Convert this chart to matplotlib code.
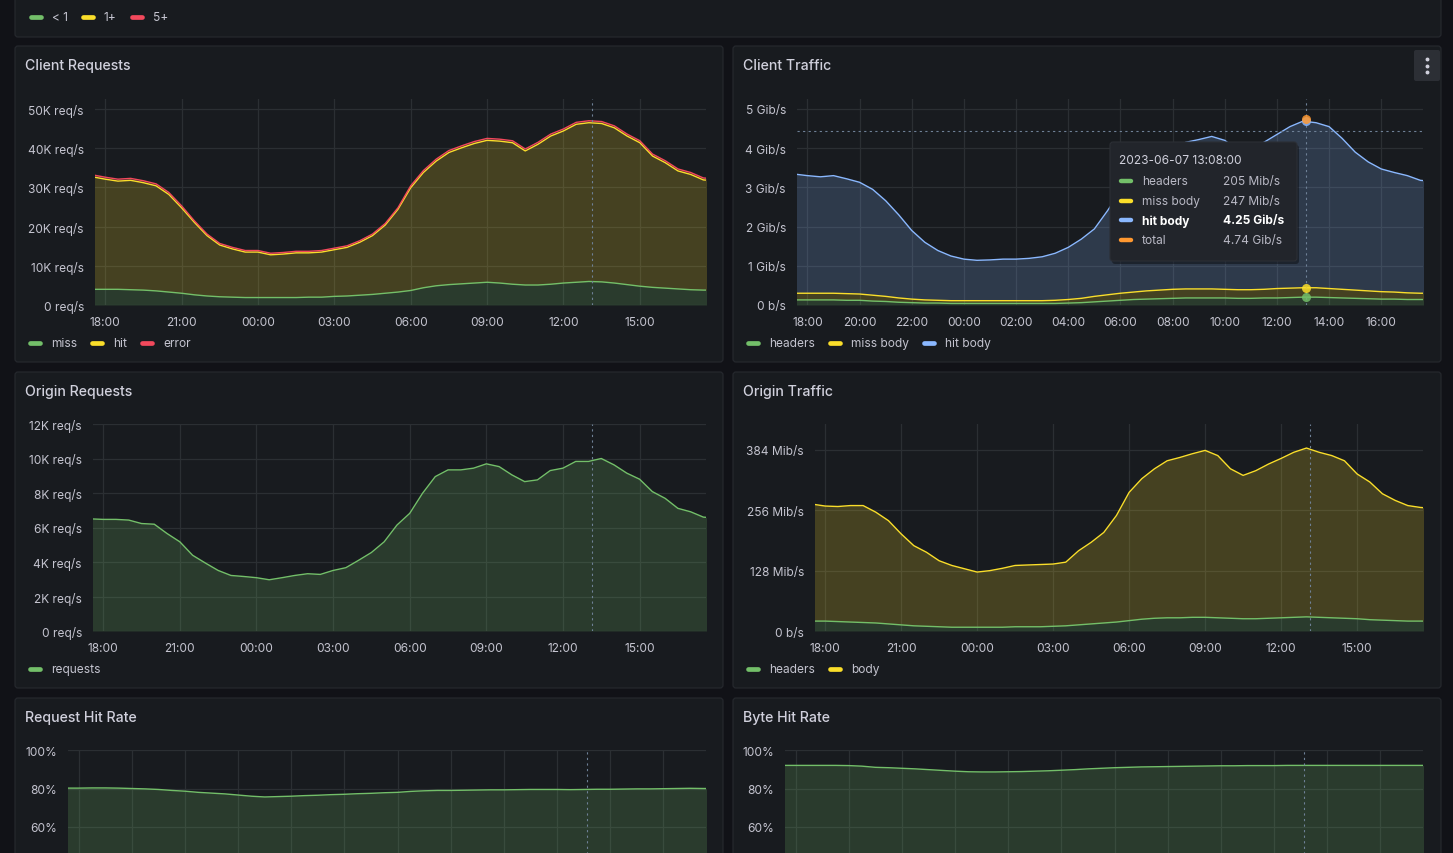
import matplotlib.pyplot as plt
import numpy as np
from matplotlib.patches import FancyBboxPatch
from matplotlib.ticker import FixedLocator, FuncFormatter

plt.rcParams["font.family"] = ["Inter", "DejaVu Sans"]

W, H = 1453, 854

CANVAS = "#111217"
PANEL = "#181b1f"
BORDER = "#25282d"
GRID = "#2b2f33"
TEXT = "#d0d0dc"
TICK = "#c4c4cf"
CURSOR = "#6f8197"
GREEN, YELLOW, RED = "#73bf69", "#fade2a", "#f2495c"
BLUE, ORANGE = "#8ab8ff", "#ff9830"

# Sample times, hours after 18:00 on 2023-06-06, one every 30 minutes.
hours = np.arange(-0.5, 24.01, 0.5)
cursor_hour = 19 + 8 / 60  # 2023-06-07 13:08:00

# Client Requests [K req/s], stacked
req_miss = [4.0, 4.0, 4.0, 3.9, 3.8, 3.6, 3.3, 3.0, 2.6, 2.3, 2.1, 2.0, 1.9, 1.9,
            1.9, 1.9, 1.9, 2.0, 2.0, 2.2, 2.3, 2.5, 2.7, 3.0, 3.3, 3.7, 4.4, 4.9,
            5.2, 5.4, 5.6, 5.8, 5.6, 5.3, 5.1, 5.1, 5.3, 5.6, 5.8, 6.0, 5.9, 5.6,
            5.2, 4.8, 4.5, 4.3, 4.1, 3.9, 3.8, 3.8]
req_hit = [28.7, 28.1, 27.6, 27.9, 27.4, 26.8, 24.9, 21.8, 18.5, 15.4, 13.2, 12.3,
           11.6, 11.6, 10.9, 11.1, 11.4, 11.3, 11.5, 11.9, 12.4, 13.5, 15.0, 17.4,
           21.1, 26.2, 29.4, 31.8, 33.7, 34.7, 35.6, 36.2, 36.2, 36.1, 34.2, 35.9,
           37.8, 38.8, 40.3, 40.5, 40.4, 39.6, 37.9, 36.6, 33.5, 32.0, 30.1, 29.4,
           28.1, 27.9]
req_error = [0.5, 0.5, 0.5, 0.5, 0.5, 0.5, 0.5, 0.5, 0.4, 0.4, 0.4, 0.4, 0.4, 0.4,
             0.4, 0.4, 0.4, 0.4, 0.4, 0.4, 0.4, 0.4, 0.4, 0.4, 0.4, 0.5, 0.5, 0.5,
             0.5, 0.5, 0.5, 0.5, 0.5, 0.5, 0.5, 0.5, 0.5, 0.5, 0.5, 0.5, 0.5, 0.5,
             0.5, 0.5, 0.5, 0.5, 0.5, 0.5, 0.5, 0.5]

# Client Traffic [Gib/s], stacked
ct_headers = [0.13, 0.13, 0.13, 0.13, 0.12, 0.12, 0.10, 0.09, 0.07, 0.06, 0.05,
              0.05, 0.04, 0.04, 0.04, 0.04, 0.04, 0.04, 0.04, 0.04, 0.04, 0.05,
              0.06, 0.08, 0.10, 0.12, 0.14, 0.15, 0.16, 0.17, 0.18, 0.18, 0.18,
              0.18, 0.17, 0.17, 0.18, 0.18, 0.19, 0.20, 0.20, 0.19, 0.18, 0.17,
              0.16, 0.15, 0.15, 0.14, 0.14, 0.14]
ct_miss_body = [0.17, 0.17, 0.17, 0.17, 0.17, 0.16, 0.15, 0.13, 0.11, 0.09, 0.08,
                0.07, 0.07, 0.07, 0.07, 0.07, 0.07, 0.07, 0.07, 0.07, 0.08, 0.09,
                0.11, 0.14, 0.16, 0.18, 0.19, 0.21, 0.22, 0.23, 0.23, 0.23, 0.23,
                0.22, 0.22, 0.22, 0.22, 0.24, 0.24, 0.24, 0.24, 0.23, 0.22, 0.21,
                0.20, 0.19, 0.18, 0.17, 0.16, 0.16]
ct_hit_body = [3.04, 3.00, 2.97, 3.00, 2.93, 2.85, 2.70, 2.44, 2.12, 1.75, 1.47,
               1.27, 1.14, 1.06, 1.03, 1.04, 1.06, 1.06, 1.08, 1.12, 1.20, 1.33,
               1.51, 1.72, 2.14, 2.60, 2.97, 3.24, 3.47, 3.60, 3.74, 3.81, 3.89,
               3.80, 3.56, 3.61, 3.75, 3.93, 4.12, 4.25, 4.21, 4.13, 3.85, 3.52,
               3.29, 3.13, 3.05, 2.99, 2.88, 2.85]

# Origin Requests [K req/s]
origin_req = [6.50, 6.47, 6.47, 6.43, 6.23, 6.19, 5.65, 5.17, 4.39, 3.94, 3.51,
              3.22, 3.16, 3.09, 2.97, 3.09, 3.22, 3.32, 3.28, 3.51, 3.67, 4.10,
              4.55, 5.17, 6.14, 6.82, 7.98, 8.95, 9.34, 9.34, 9.44, 9.69, 9.53,
              9.05, 8.66, 8.76, 9.30, 9.44, 9.83, 9.83, 10.0, 9.63, 9.15, 8.80,
              8.08, 7.69, 7.11, 6.91, 6.60, 6.55]

# Origin Traffic [Mib/s], stacked
ot_headers = [21, 21, 20, 19, 18, 17, 15, 13, 11, 10, 9, 8, 8, 8, 8, 8, 9, 9, 9,
              10, 11, 13, 15, 17, 19, 22, 25, 27, 28, 28, 29, 29, 28, 27, 26, 26,
              27, 28, 29, 30, 29, 28, 27, 26, 24, 23, 22, 21, 21, 21]
ot_body = [248, 244, 244, 247, 248, 235, 219, 193, 170, 157, 140, 131, 124, 117,
           120, 125, 130, 131, 132, 132, 135, 157, 173, 192, 226, 272, 298, 317,
           333, 340, 347, 354, 344, 317, 304, 314, 327, 338, 350, 358, 350, 344,
           334, 307, 292, 268, 255, 245, 241, 239]

# Hit rates [%]
request_hit_rate = [80.2, 80.2, 80.3, 80.3, 80.2, 80.0, 79.8, 79.5, 79.0, 78.6,
                    78.0, 77.6, 77.2, 76.6, 76.0, 75.6, 75.8, 76.0, 76.3, 76.5,
                    76.8, 77.0, 77.3, 77.5, 77.8, 78.0, 78.5, 78.8, 79.0, 79.0,
                    79.1, 79.2, 79.3, 79.3, 79.4, 79.5, 79.5, 79.5, 79.4, 79.5,
                    79.6, 79.6, 79.7, 79.8, 79.8, 79.9, 80.0, 80.1, 80.0, 80.0]
byte_hit_rate = [92.0, 92.0, 92.0, 92.0, 92.0, 91.9, 91.6, 91.0, 90.8, 90.5,
                 90.2, 89.8, 89.4, 89.0, 88.7, 88.6, 88.6, 88.7, 88.8, 89.0,
                 89.2, 89.5, 89.8, 90.2, 90.5, 90.8, 91.0, 91.2, 91.3, 91.4,
                 91.5, 91.6, 91.7, 91.8, 91.8, 91.9, 91.9, 91.9, 92.0, 92.0,
                 92.0, 92.0, 92.0, 92.0, 92.0, 92.0, 92.0, 92.0, 92.0, 92.0]

# Tooltip at the cursor (Client Traffic)
tip_time = "2023-06-07 13:08:00"
tip_labels = ["headers", "miss body", "hit body", "total"]
tip_texts = ["205 Mib/s", "247 Mib/s", "4.25 Gib/s", "4.74 Gib/s"]
tip_gib = [0.200, 0.241, 4.25, 4.74]
tip_colors = [GREEN, YELLOW, BLUE, ORANGE]
cursor_y_gib = 4.45

state_labels = ["< 1", "1+", "5+"]
state_colors = [GREEN, YELLOW, RED]


fig = plt.figure(figsize=(W / 100, H / 100), dpi=100, facecolor=CANVAS)

# Background layer in pixel coordinates.
bg = fig.add_axes([0, 0, 1, 1])
bg.set_xlim(0, W)
bg.set_ylim(H, 0)
bg.axis("off")
renderer = fig.canvas.get_renderer()


def panel(x0, y0, x1, y1, title=None):
    bg.add_patch(FancyBboxPatch((x0, y0), x1 - x0, y1 - y0,
                                boxstyle="round,pad=0,rounding_size=3",
                                facecolor=PANEL, edgecolor=BORDER, linewidth=0.9))
    if title:
        bg.text(x0 + 10, y0 + 19, title, color=TEXT, fontsize=10.2,
                fontweight="medium", va="center", ha="left")


def legend(x, y, items, fontsize=8.6):
    for label, color in items:
        bg.plot([x + 3, x + 13], [y, y], color=color, lw=3.4,
                solid_capstyle="round")
        t = bg.text(x + 24, y, label, color=TICK, fontsize=fontsize,
                    va="center", ha="left")
        ext = t.get_window_extent(renderer)
        x = x + 24 + ext.width + 12


def px_axes(x0, y0, x1, y1):
    return fig.add_axes([x0 / W, 1 - y1 / H, (x1 - x0) / W, (y1 - y0) / H])


def hour_label(h, _pos):
    return f"{int(round(18 + h)) % 24:02d}:00"


def style(ax, xstep, yticks, ymax, yfmt, xlabels=True):
    ax.set_facecolor("none")
    for s in ax.spines.values():
        s.set_visible(False)
    ax.set_xlim(-0.4, 23.6)
    ax.set_ylim(0, ymax)
    ax.xaxis.set_major_locator(FixedLocator(np.arange(0, 23.6, xstep)))
    ax.xaxis.set_major_formatter(FuncFormatter(hour_label))
    ax.yaxis.set_major_locator(FixedLocator(yticks))
    ax.yaxis.set_major_formatter(FuncFormatter(yfmt))
    ax.tick_params(length=0, colors=TICK, labelsize=8.6, pad=8)
    ax.tick_params(axis="x", labelbottom=xlabels)
    ax.grid(True, color=GRID, linewidth=0.9)
    ax.set_axisbelow(True)
    ax.axvline(cursor_hour, color=CURSOR, lw=0.8, ls=(0, (2, 3)), zorder=4)


def stacked(ax, series, colors, lw=1.0):
    base = np.zeros(len(hours))
    tops = []
    for vals, col in zip(series, colors):
        top = base + np.asarray(vals, dtype=float)
        ax.fill_between(hours, base, top, color=col, alpha=0.2, linewidth=0)
        tops.append(top)
        base = top
    for top, col in zip(tops, colors):
        ax.plot(hours, top, color=col, lw=lw, zorder=3)


# Panels
panel(15, -6, 1441, 38)
legend(28, 18, list(zip(state_labels, state_colors)))
panel(15, 47, 723, 363, "Client Requests")
panel(733, 47, 1441, 363, "Client Traffic")
panel(15, 373, 723, 689, "Origin Requests")
panel(733, 373, 1441, 689, "Origin Traffic")
panel(15, 699, 723, 880, "Request Hit Rate")
panel(733, 699, 1441, 880, "Byte Hit Rate")

legend(27, 344, [("miss", GREEN), ("hit", YELLOW), ("error", RED)])
legend(745, 344, [("headers", GREEN), ("miss body", YELLOW), ("hit body", BLUE)])
legend(27, 670, [("requests", GREEN)])
legend(745, 670, [("headers", GREEN), ("body", YELLOW)])

# Panel menu button on Client Traffic
bg.add_patch(FancyBboxPatch((1414, 51), 26, 31, boxstyle="round,pad=0,rounding_size=2",
                            facecolor="#2c2f35", edgecolor="none"))
bg.plot([1427, 1427, 1427], [60, 66.5, 73], "o", ms=1.8, color=TEXT)

# Client Requests
ax = px_axes(95, 100, 706, 306)
stacked(ax, [req_miss, req_hit, req_error], [GREEN, YELLOW, RED])
style(ax, 3, [0, 10, 20, 30, 40, 50], 52.55,
      lambda v, _p: "0 req/s" if v == 0 else f"{v:.0f}K req/s")

# Client Traffic
ax_ct = px_axes(797, 100, 1423, 306)
stacked(ax_ct, [ct_headers, ct_miss_body, ct_hit_body], [GREEN, YELLOW, BLUE])
style(ax_ct, 2, [0, 1, 2, 3, 4, 5], 5.255,
      lambda v, _p: "0 b/s" if v == 0 else f"{v:.0f} Gib/s")
ax_ct.axhline(cursor_y_gib, color=CURSOR, lw=0.8, ls=(0, (2, 3)), zorder=4)
dots = np.cumsum(tip_gib[:3])
for val, col in zip(list(dots) + [tip_gib[3]], tip_colors):
    ax_ct.plot(cursor_hour, val, "o", ms=6.5, color=col, alpha=0.85,
               markeredgewidth=0, zorder=6, clip_on=False)

# Origin Requests
ax = px_axes(93, 425, 706, 632)
stacked(ax, [origin_req], [GREEN])
style(ax, 3, [0, 2, 4, 6, 8, 10, 12], 12,
      lambda v, _p: "0 req/s" if v == 0 else f"{v:.0f}K req/s")

# Origin Traffic
ax = px_axes(815, 425, 1423, 632)
stacked(ax, [ot_headers, ot_body], [GREEN, YELLOW])
style(ax, 3, [0, 128, 256, 384], 439,
      lambda v, _p: "0 b/s" if v == 0 else f"{v:.0f} Mib/s")

# Hit rates (the lower part of these panels lies below the screenshot)
ax = px_axes(68, 751, 706, 943.5)
stacked(ax, [request_hit_rate], [GREEN])
style(ax, 2, [60, 80, 100], 100, lambda v, _p: f"{v:.0f}%", xlabels=False)

ax = px_axes(785, 751, 1423, 943.5)
stacked(ax, [byte_hit_rate], [GREEN])
style(ax, 2, [60, 80, 100], 100, lambda v, _p: f"{v:.0f}%", xlabels=False)

# Tooltip overlay
top = fig.add_axes([0, 0, 1, 1])
top.set_xlim(0, W)
top.set_ylim(H, 0)
top.axis("off")
top.add_patch(FancyBboxPatch((1112, 146), 187, 119, boxstyle="round,pad=0,rounding_size=3",
                             facecolor="#0c0d10", edgecolor="none", alpha=0.5))
top.add_patch(FancyBboxPatch((1110, 143), 187, 119, boxstyle="round,pad=0,rounding_size=3",
                             facecolor="#22252b", edgecolor="#2c2f35", linewidth=0.8))
top.text(1119, 161, tip_time, color=TEXT, fontsize=8.6, va="center", ha="left")
for i, (lab, txt, col) in enumerate(zip(tip_labels, tip_texts, tip_colors)):
    y = 182 + i * 19.7
    bold = lab == "hit body"
    top.plot([1121, 1131], [y, y], color=col, lw=3.2, solid_capstyle="round")
    top.text(1142, y, lab, color="#ffffff" if bold else "#b9b9c5", fontsize=8.6,
             fontweight="bold" if bold else "normal", va="center", ha="left")
    top.text(1223, y, txt, color="#ffffff" if bold else "#b9b9c5", fontsize=8.6,
             fontweight="bold" if bold else "normal", va="center", ha="left")

fig.savefig("out.png", dpi=100, facecolor=CANVAS)
